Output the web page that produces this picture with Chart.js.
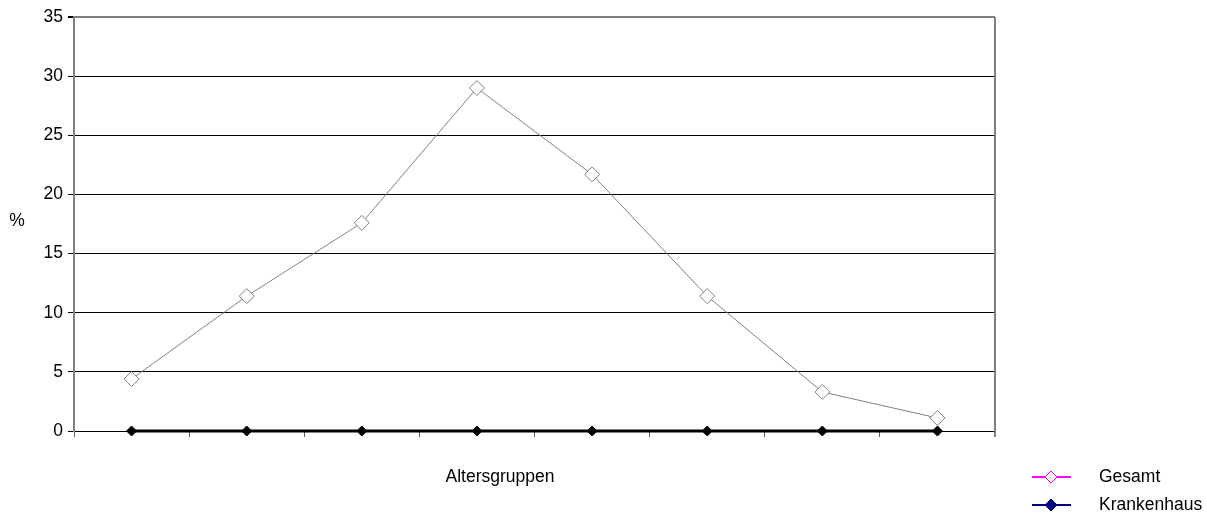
<!DOCTYPE html>
<html>
<head>
<meta charset="utf-8">
<script src="https://cdn.jsdelivr.net/npm/chart.js@4/dist/chart.umd.min.js"></script>
<style>
  html, body { margin: 0; padding: 0; background: #fff; }
  #wrap { width: 1207px; height: 513px; position: relative; }
</style>
</head>
<body>
<div id="wrap"><canvas id="grafico"></canvas></div>
<script>
// Altersgruppen (no labels shown on the axis)
const categorias = ["", "", "", "", "", "", "", ""];
const gesamt = [4.4, 11.4, 17.6, 29.0, 21.7, 11.4, 3.3, 1.1];
const krankenhaus = [0, 0, 0, 0, 0, 0, 0, 0];
const yTicks = [0, 5, 10, 15, 20, 25, 30, 35];

const FONT = "'Liberation Sans', Arial, sans-serif";
const FSIZE = 17.5;

// textos sueltos + leyenda como en el original
const extras = {
    id: "extras",
    afterDraw(chart) {
        const ctx = chart.ctx;
        const area = chart.chartArea;
        ctx.save();
        // borde derecho gris
        ctx.strokeStyle = "#808080";
        ctx.lineWidth = 2;
        ctx.beginPath();
        ctx.moveTo(area.right, area.top);
        ctx.lineTo(area.right, area.bottom + 6);
        ctx.stroke();

        ctx.fillStyle = "#000";
        ctx.font = FSIZE + "px " + FONT;
        ctx.textBaseline = "middle";
        ctx.textAlign = "center";
        ctx.fillText("%", 17, 221);
        ctx.fillText("Altersgruppen", 500, 477);

        // leyenda
        const items = [
            { text: "Gesamt", color: "#FF00FF", fill: "#FFFFFF", y: 477 },
            { text: "Krankenhaus", color: "#000080", fill: "#000080", y: 505 }
        ];
        items.forEach(function(it){
            ctx.strokeStyle = it.color;
            ctx.lineWidth = 2;
            ctx.beginPath();
            ctx.moveTo(1032, it.y);
            ctx.lineTo(1071, it.y);
            ctx.stroke();
            ctx.beginPath();
            ctx.moveTo(1051, it.y - 6);
            ctx.lineTo(1057, it.y);
            ctx.lineTo(1051, it.y + 6);
            ctx.lineTo(1045, it.y);
            ctx.closePath();
            ctx.fillStyle = it.fill;
            ctx.fill();
            ctx.lineWidth = 1;
            ctx.stroke();
            ctx.fillStyle = "#000";
            ctx.textAlign = "left";
            ctx.fillText(it.text, 1099, it.y);
        });
        ctx.restore();
    }
};

new Chart(document.getElementById("grafico"), {
    type: "line",
    data: {
        labels: categorias,
        datasets: [
            {
                label: "Gesamt",
                data: gesamt,
                borderColor: "#808080",
                borderWidth: 1,
                pointStyle: "rectRot",
                pointRadius: 7.5,
                pointBackgroundColor: "#FFFFFF",
                pointBorderColor: "#808080",
                pointBorderWidth: 1,
                tension: 0,
                clip: false
            },
            {
                label: "Krankenhaus",
                data: krankenhaus,
                borderColor: "#000000",
                borderWidth: 3,
                pointStyle: "rectRot",
                pointRadius: 5,
                pointBackgroundColor: "#000000",
                pointBorderColor: "#000000",
                pointBorderWidth: 1,
                tension: 0,
                clip: false
            }
        ]
    },
    options: {
        responsive: true,
        maintainAspectRatio: false,
        animation: false,
        layout: { padding: { left: 0, top: 17, right: 212, bottom: 0 } },
        plugins: {
            legend: { display: false },
            tooltip: { enabled: false }
        },
        scales: {
            x: {
                offset: true,
                grid: {
                    offset: true,
                    drawOnChartArea: false,
                    drawTicks: true,
                    tickLength: 6,
                    tickColor: "#606060"
                },
                border: { display: false },
                ticks: { display: true, font: { size: 1 }, color: "rgba(0,0,0,0)" },
                afterFit(scale) { scale.height = 82; }
            },
            y: {
                min: 0,
                max: 35,
                afterBuildTicks(scale) { scale.ticks = yTicks.map(v => ({ value: v })); },
                grid: {
                    color: ctx => ctx.tick && ctx.tick.value === 35 ? "#808080" : "#000000",
                    lineWidth: ctx => ctx.tick && ctx.tick.value === 35 ? 2 : 1,
                    tickLength: 6,
                    tickColor: "#000000"
                },
                border: { display: true, color: "#808080", width: 2 },
                ticks: {
                    padding: 5,
                    color: "#000",
                    font: { family: FONT, size: FSIZE }
                },
                afterFit(scale) { scale.width = 74; }
            }
        }
    },
    plugins: [extras]
});
</script>
</body>
</html>
